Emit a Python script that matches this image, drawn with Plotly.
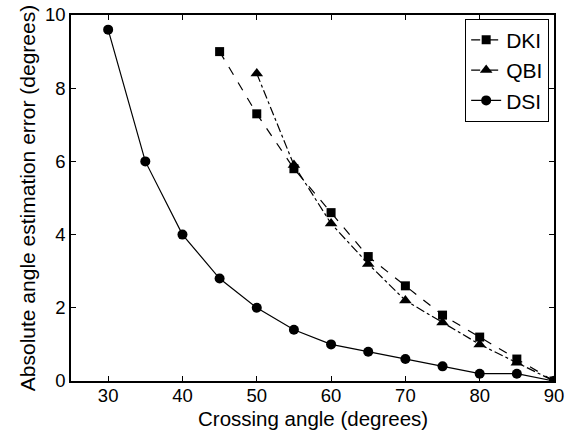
import plotly.graph_objects as go

angles_dsi = [30, 35, 40, 45, 50, 55, 60, 65, 70, 75, 80, 85, 90]
err_dsi = [9.6, 6.0, 4.0, 2.8, 2.0, 1.4, 1.0, 0.8, 0.6, 0.4, 0.2, 0.2, 0.0]
angles_dki = [45, 50, 55, 60, 65, 70, 75, 80, 85, 90]
err_dki = [9.0, 7.3, 5.8, 4.6, 3.4, 2.6, 1.8, 1.2, 0.6, 0.0]
angles_qbi = [50, 55, 60, 65, 70, 75, 80, 85, 90]
err_qbi = [8.4, 5.9, 4.3, 3.2, 2.2, 1.6, 1.0, 0.5, 0.0]

x_ticks = [30, 40, 50, 60, 70, 80, 90]
y_ticks = [0, 2, 4, 6, 8, 10]

fig = go.Figure()
fig.add_trace(go.Scatter(x=angles_dki, y=err_dki, name="DKI", mode="lines+markers",
                         line=dict(color="black", width=1.2, dash="dash"),
                         marker=dict(symbol="square", size=9, color="black")))
fig.add_trace(go.Scatter(x=angles_qbi, y=err_qbi, name="QBI", mode="lines+markers",
                         line=dict(color="black", width=1.2, dash="dashdot"),
                         marker=dict(symbol="triangle-up", size=11, color="black")))
fig.add_trace(go.Scatter(x=angles_dsi, y=err_dsi, name="DSI", mode="lines+markers",
                         line=dict(color="black", width=1.2),
                         marker=dict(symbol="circle", size=10, color="black")))

axis_common = dict(showgrid=False, zeroline=False, showline=True, linecolor="black",
                   linewidth=1.5, mirror="ticks", ticks="inside", ticklen=5,
                   tickcolor="black", tickfont=dict(size=18.5, color="black"))

fig.update_layout(
    width=575, height=431,
    margin=dict(l=71, r=21, t=15, b=50, autoexpand=False),
    paper_bgcolor="white", plot_bgcolor="white",
    font=dict(family="Liberation Sans, Arial, sans-serif", color="black"),
    xaxis=dict(range=[25, 90], tickvals=x_ticks, automargin=False, ticklabelstandoff=-3,
               **axis_common),
    yaxis=dict(range=[0, 10], tickvals=y_ticks, automargin=False,
               title=dict(text="Absolute angle estimation error (degrees)", font=dict(size=21), standoff=4),
               **axis_common),
    legend=dict(x=0.99, y=0.99, xanchor="right", yanchor="top",
                bgcolor="white", bordercolor="black", borderwidth=1,
                font=dict(size=21), itemwidth=30, tracegroupgap=0),
    annotations=[dict(text="Crossing angle (degrees)", xref="paper", yref="paper",
                      x=0.5, y=0, xanchor="center", yanchor="top", yshift=-24,
                      showarrow=False, font=dict(size=20.5))],
    showlegend=True,
)

fig.write_html("out.html", config={"displayModeBar": False},
               post_script="document.body.style.margin='0';")
